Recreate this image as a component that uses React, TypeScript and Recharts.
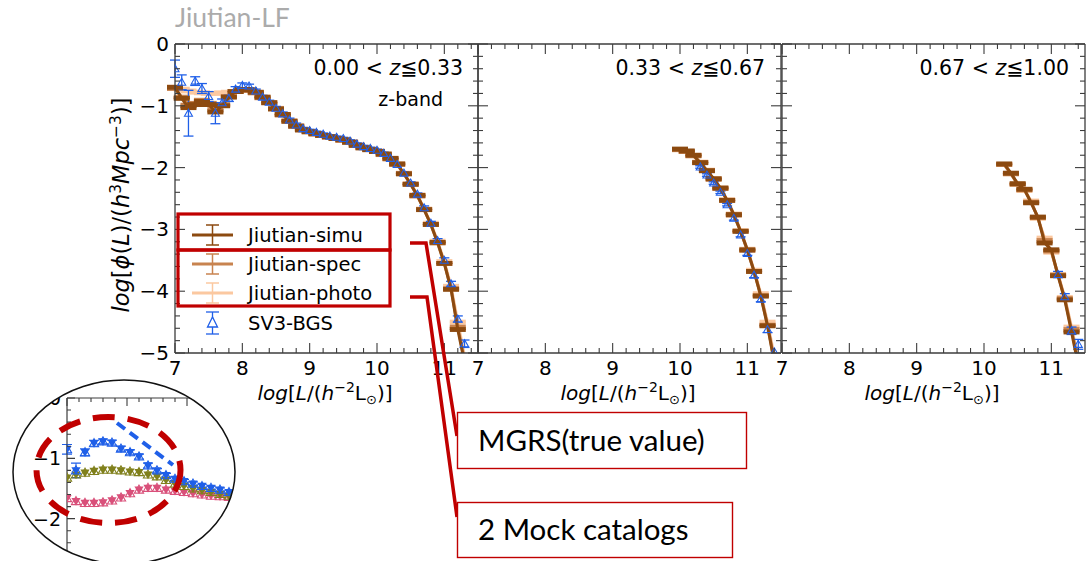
import React from "react";
import { ComposedChart, Line, XAxis, YAxis, ErrorBar } from "recharts";

// ---------- panel 1 : 0.00 < z <= 0.33 ----------
const lum1 = [7.0, 7.1, 7.2, 7.3, 7.4, 7.5, 7.6, 7.7, 7.8, 7.9, 8.0, 8.1, 8.2, 8.3, 8.4, 8.5, 8.6, 8.7, 8.8, 8.9, 9.0, 9.1, 9.2, 9.3, 9.4, 9.5, 9.6, 9.7, 9.8, 9.9, 10.0, 10.1, 10.2, 10.3, 10.4, 10.5, 10.6, 10.7, 10.8, 10.9, 11.0, 11.1, 11.2, 11.3, 11.4];
const simu1 = [-0.7, -0.88, -1.03, -0.98, -0.93, -0.98, -1.1, -1.0, -0.86, -0.77, -0.74, -0.74, -0.78, -0.86, -0.95, -1.05, -1.14, -1.25, -1.33, -1.39, -1.42, -1.45, -1.48, -1.5, -1.53, -1.55, -1.59, -1.64, -1.68, -1.71, -1.74, -1.78, -1.85, -1.94, -2.1, -2.27, -2.45, -2.68, -2.92, -3.21, -3.55, -3.97, -4.62, -5.15, null];
const spec1 = [-0.72, -0.86, -0.99, -0.96, -0.91, -0.96, -1.06, -0.98, -0.85, -0.77, -0.74, -0.75, -0.79, -0.87, -0.95, -1.05, -1.15, -1.25, -1.33, -1.39, -1.42, -1.46, -1.48, -1.51, -1.53, -1.56, -1.59, -1.64, -1.68, -1.71, -1.74, -1.79, -1.86, -1.95, -2.1, -2.27, -2.46, -2.68, -2.92, -3.22, -3.55, -3.96, -4.58, -5.12, null];
const photo1 = [-0.7, -0.73, -0.76, -0.78, -0.79, -0.8, -0.8, -0.79, -0.78, -0.77, -0.75, -0.75, -0.79, -0.86, -0.95, -1.04, -1.14, -1.24, -1.32, -1.38, -1.42, -1.45, -1.48, -1.5, -1.52, -1.55, -1.58, -1.63, -1.67, -1.7, -1.73, -1.78, -1.85, -1.94, -2.09, -2.26, -2.44, -2.67, -2.9, -3.19, -3.52, -3.92, -4.5, -5.05, null];
const sv31 = [-0.4, -0.62, -1.12, -0.6, -0.72, -0.85, -1.12, -0.95, -0.88, -0.73, -0.67, -0.68, -0.76, -0.86, -0.94, -1.04, -1.13, -1.23, -1.31, -1.37, -1.4, -1.43, -1.46, -1.49, -1.51, -1.53, -1.57, -1.62, -1.66, -1.69, -1.72, -1.77, -1.85, -1.95, -2.09, -2.25, -2.43, -2.65, -2.9, -3.18, -3.5, -3.88, -4.45, -4.85, null];
const sv3Err1 = [0.14, 0.12, 0.37, 0.07, 0.08, 0.08, 0.17, 0.06, 0.05, 0.04, 0.04, 0.03, 0.03, 0.03, 0.03, 0.03, 0.03, 0.03, 0.03, 0.02, 0.02, 0.02, 0.02, 0.02, 0.02, 0.02, 0.02, 0.02, 0.02, 0.02, 0.02, 0.02, 0.02, 0.02, 0.02, 0.02, 0.02, 0.03, 0.03, 0.03, 0.04, 0.04, 0.05, 0.06, null];

// ---------- panel 2 : 0.33 < z <= 0.67 ----------
const lum2 = [10.0, 10.1, 10.2, 10.3, 10.4, 10.5, 10.6, 10.7, 10.8, 10.9, 11.0, 11.1, 11.2, 11.3, 11.4, 11.5];
const simu2 = [-1.7, -1.73, -1.8, -1.92, -2.05, -2.18, -2.33, -2.53, -2.76, -3.03, -3.33, -3.68, -4.08, -4.56, -5.15, null];
const spec2 = [-1.71, -1.74, -1.81, -1.92, -2.05, -2.19, -2.34, -2.53, -2.77, -3.03, -3.34, -3.68, -4.07, -4.55, -5.12, null];
const photo2 = [-1.71, -1.74, -1.8, -1.91, -2.04, -2.18, -2.33, -2.52, -2.75, -3.02, -3.32, -3.66, -4.04, -4.5, -5.05, null];
const sv32 = [null, null, null, -1.99, -2.12, -2.25, -2.4, -2.6, -2.82, -3.09, -3.39, -3.74, -4.13, -4.62, -4.98, null];
const sv3Err2 = [null, null, null, 0.02, 0.02, 0.02, 0.02, 0.02, 0.03, 0.03, 0.03, 0.04, 0.04, 0.05, null, null];

// ---------- panel 3 : 0.67 < z <= 1.00 ----------
const lum3 = [10.3, 10.4, 10.5, 10.6, 10.7, 10.8, 10.9, 11.0, 11.1, 11.2, 11.3, 11.4, 11.5];
const simu3 = [-1.94, -2.09, -2.26, -2.35, -2.57, -2.8, -3.22, -3.33, -3.75, -4.14, -4.66, -5.2, null];
const spec3 = [-1.95, -2.1, -2.27, -2.36, -2.56, -2.81, -3.18, -3.35, -3.74, -4.12, -4.62, -5.15, null];
const photo3 = [-1.95, -2.1, -2.27, -2.37, -2.54, -2.82, -3.14, -3.37, -3.73, -4.1, -4.58, -5.1, null];
const sv33 = [null, null, null, null, null, null, null, null, -3.73, -4.09, -4.64, -4.86, null];
const sv3Err3 = [null, null, null, null, null, null, null, null, 0.05, 0.05, 0.06, 0.08, null];

const mockErr = 0.015;

// ---------- inset (older LF comparison) ----------
const insetL = [7.0, 7.15, 7.3, 7.45, 7.6, 7.75, 7.9, 8.05, 8.2, 8.35, 8.5, 8.65, 8.8, 8.95, 9.1, 9.25, 9.4, 9.55, 9.7, 9.85, 10.0];
const insetBlue = [-0.85, -1.2, -0.9, -0.75, -0.72, -0.74, -0.84, -0.9, -0.97, -1.12, -1.2, -1.28, -1.34, -1.38, -1.42, -1.46, -1.49, -1.52, -1.56, -1.58, -1.6];
const insetBlueErr = [0.08, 0.12, 0.06, 0.05, 0.04, 0.04, 0.04, 0.04, 0.04, 0.04, 0.03, 0.03, 0.03, 0.03, 0.03, 0.03, 0.03, 0.03, 0.03, 0.03, 0.03];
const insetOlive = [-1.32, -1.27, -1.24, -1.21, -1.19, -1.19, -1.2, -1.22, -1.23, -1.27, -1.3, -1.36, -1.42, -1.46, -1.5, -1.53, -1.56, -1.59, -1.62, -1.64, -1.65];
const insetPink = [-1.66, -1.71, -1.74, -1.74, -1.73, -1.7, -1.65, -1.58, -1.52, -1.49, -1.49, -1.52, -1.54, -1.56, -1.58, -1.6, -1.62, -1.63, -1.64, -1.64, -1.64];

const xTicks = [7, 7.2, 7.4, 7.6, 7.8, 8, 8.2, 8.4, 8.6, 8.8, 9, 9.2, 9.4, 9.6, 9.8, 10, 10.2, 10.4, 10.6, 10.8, 11, 11.2, 11.4];
const yTicks = [0, -0.2, -0.4, -0.6, -0.8, -1, -1.2, -1.4, -1.6, -1.8, -2, -2.2, -2.4, -2.6, -2.8, -3, -3.2, -3.4, -3.6, -3.8, -4, -4.2, -4.4, -4.6, -4.8, -5];
const insetXTicks = [7, 7.2, 7.4, 7.6, 7.8, 8, 8.2, 8.4, 8.6, 8.8, 9, 9.2, 9.4, 9.6, 9.8, 10, 10.2, 10.4];
const insetYTicks = [0, -0.2, -0.4, -0.6, -0.8, -1, -1.2, -1.4, -1.6, -1.8, -2, -2.2, -2.4, -2.6, -2.8, -3];
const insetYLabels = [0, -1, -2];

const SIMU = "#8c4a10";
const SPEC = "#c8834f";
const PHOTO = "#fbc8a0";
const BLUE = "#1f5fe8";
const OLIVE = "#80801c";
const PINK = "#d9507a";
const RED = "#c00000";
const AXIS = "#3c3c3c";
const FONT = "DejaVu Sans";

const W = 1088;
const CH = 420;
const TOP = 44;
const BOTTOM = 353;
const PW = 303;
const Y_MIN = -5;

// caps of points that fall below the frame are dropped (ErrorBar is not clipped)
const errFor = (v, e) => (v == null || v < Y_MIN ? null : e);

const buildRows = (lum, simu, spec, photo, sv3, sv3Err) =>
  lum.map((x, i) => ({
    x,
    simu: simu[i],
    spec: spec[i],
    photo: photo[i],
    sv3: sv3[i],
    sv3Err: errFor(sv3[i], sv3Err[i]),
    simuErr: errFor(simu[i], mockErr),
    specErr: errFor(spec[i], mockErr),
    photoErr: errFor(photo[i], mockErr),
  }));

const rows1 = buildRows(lum1, simu1, spec1, photo1, sv31, sv3Err1);
const rows2 = buildRows(lum2, simu2, spec2, photo2, sv32, sv3Err2);
const rows3 = buildRows(lum3, simu3, spec3, photo3, sv33, sv3Err3);

const insetRows = insetL.map((x, i) => ({
  x,
  blue: insetBlue[i],
  blueErr: insetBlueErr[i],
  olive: insetOlive[i],
  pink: insetPink[i],
}));

const isMajor = (v: number) => Math.abs(v - Math.round(v)) < 1e-6;
const fmt = (v: number) => (v < 0 ? "\u2212" + Math.abs(v) : String(v));

function AxisTick(props: any) {
  const { x, y, payload, side, showLabel, labels, big = 10, small = 5, fontSize = 20 } = props;
  const v = payload.value;
  const len = isMajor(v) ? big : small;
  const labelled = showLabel && isMajor(v) && (!labels || labels.includes(v));
  let line;
  if (side === "bottom") line = <line x1={x} y1={y} x2={x} y2={y - len} />;
  else if (side === "top") line = <line x1={x} y1={y} x2={x} y2={y + len} />;
  else if (side === "left") line = <line x1={x} y1={y} x2={x + len} y2={y} />;
  else line = <line x1={x} y1={y} x2={x - len} y2={y} />;
  return (
    <g stroke={AXIS} strokeWidth={1.1}>
      {line}
      {labelled && side === "bottom" && (
        <text x={x} y={y + 22} textAnchor="middle" fontSize={fontSize} fontFamily={FONT} fill="#000" stroke="none">
          {fmt(v)}
        </text>
      )}
      {labelled && side === "left" && (
        <text x={x - 6} y={y + 7} textAnchor="end" fontSize={fontSize} fontFamily={FONT} fill="#000" stroke="none">
          {fmt(v)}
        </text>
      )}
    </g>
  );
}

function OpenTriangle(props: any) {
  const { cx, cy, index } = props;
  if (!Number.isFinite(cx) || !Number.isFinite(cy)) return <g key={"tri" + index} />;
  const s = 4;
  return (
    <polygon
      key={"tri" + index}
      points={`${cx},${cy - s} ${cx - s},${cy + s * 0.75} ${cx + s},${cy + s * 0.75}`}
      fill="none"
      stroke={BLUE}
      strokeWidth={1.1}
    />
  );
}

const makeTwinTriangle = (color: string) => (props: any) => {
  const { cx, cy, index } = props;
  if (!Number.isFinite(cx) || !Number.isFinite(cy)) return <g key={"tw" + index} />;
  const s = 4.6;
  return (
    <g key={"tw" + index}>
      <polygon points={`${cx - s},${cy - s * 0.7} ${cx + s},${cy - s * 0.7} ${cx},${cy + s}`} fill={color} />
      <polygon points={`${cx},${cy - s} ${cx - s},${cy + s * 0.75} ${cx + s},${cy + s * 0.75}`} fill="none" stroke={color} strokeWidth={1.1} />
    </g>
  );
};

// axes get 1px of room (a zero-size axis is not drawn), margins are reduced to keep the plot box in place
function Panel({ rows, left, showYLabels }: any) {
  const right = W - left - PW;
  const axisLine = { stroke: AXIS, strokeWidth: 1.3 };
  return (
    <div style={{ position: "absolute", left: 0, top: 0 }}>
      <ComposedChart width={W} height={CH} data={rows} margin={{ top: TOP - 1, bottom: CH - BOTTOM - 1, left: left - 1, right: right - 1 }}>
        <XAxis xAxisId="b" dataKey="x" type="number" domain={[7, 11.5]} ticks={xTicks} interval={0} allowDataOverflow
          height={1} tickSize={0} tickMargin={0} tickLine={false} axisLine={axisLine}
          tick={(p: any) => <AxisTick {...p} side="bottom" showLabel />} />
        <XAxis xAxisId="t" orientation="top" dataKey="x" type="number" domain={[7, 11.5]} ticks={xTicks} interval={0} allowDataOverflow
          height={1} tickSize={0} tickMargin={0} tickLine={false} axisLine={axisLine}
          tick={(p: any) => <AxisTick {...p} side="top" />} />
        <YAxis yAxisId="l" type="number" domain={[Y_MIN, 0]} ticks={yTicks} interval={0} allowDataOverflow
          width={1} tickSize={0} tickMargin={0} tickLine={false} axisLine={axisLine}
          tick={(p: any) => <AxisTick {...p} side="left" showLabel={showYLabels} />} />
        <YAxis yAxisId="r" orientation="right" type="number" domain={[Y_MIN, 0]} ticks={yTicks} interval={0} allowDataOverflow
          width={1} tickSize={0} tickMargin={0} tickLine={false} axisLine={axisLine}
          tick={(p: any) => <AxisTick {...p} side="right" />} />
        <Line xAxisId="b" yAxisId="l" dataKey="photo" type="linear" stroke={PHOTO} strokeWidth={3} dot={false} activeDot={false} isAnimationActive={false}>
          <ErrorBar dataKey="photoErr" width={8} stroke={PHOTO} strokeWidth={3} isAnimationActive={false} />
        </Line>
        <Line xAxisId="b" yAxisId="l" dataKey="spec" type="linear" stroke={SPEC} strokeWidth={3} dot={false} activeDot={false} isAnimationActive={false}>
          <ErrorBar dataKey="specErr" width={8} stroke={SPEC} strokeWidth={3} isAnimationActive={false} />
        </Line>
        <Line xAxisId="b" yAxisId="l" dataKey="sv3" type="linear" stroke="none" dot={(p: any) => <OpenTriangle {...p} />} activeDot={false} isAnimationActive={false}>
          <ErrorBar dataKey="sv3Err" width={5} stroke={BLUE} strokeWidth={1.3} isAnimationActive={false} />
        </Line>
        <Line xAxisId="b" yAxisId="l" dataKey="simu" type="linear" stroke={SIMU} strokeWidth={3} dot={false} activeDot={false} isAnimationActive={false}>
          <ErrorBar dataKey="simuErr" width={8} stroke={SIMU} strokeWidth={3} isAnimationActive={false} />
        </Line>
      </ComposedChart>
    </div>
  );
}

function Inset() {
  const axisLine = { stroke: AXIS, strokeWidth: 1.2 };
  return (
    <div style={{ position: "absolute", left: 0, top: 370, width: 300, height: 191, overflow: "hidden", clipPath: "ellipse(111px 92px at 124px 102px)" }}>
      <ComposedChart width={300} height={220} data={insetRows} margin={{ top: 27, left: 66, right: 23, bottom: 11 }}>
        <XAxis xAxisId="t" orientation="top" dataKey="x" type="number" domain={[7, 10.5]} ticks={insetXTicks} interval={0} allowDataOverflow
          height={1} tickSize={0} tickMargin={0} tickLine={false} axisLine={axisLine}
          tick={(p: any) => <AxisTick {...p} side="top" big={8} small={4} />} />
        <YAxis yAxisId="l" type="number" domain={[-3, 0]} ticks={insetYTicks} interval={0} allowDataOverflow
          width={1} tickSize={0} tickMargin={0} tickLine={false} axisLine={axisLine}
          tick={(p: any) => <AxisTick {...p} side="left" showLabel labels={insetYLabels} big={8} small={4} fontSize={19} />} />
        <Line xAxisId="t" yAxisId="l" dataKey="pink" stroke="none" dot={makeTwinTriangle(PINK)} activeDot={false} isAnimationActive={false} />
        <Line xAxisId="t" yAxisId="l" dataKey="olive" stroke="none" dot={makeTwinTriangle(OLIVE)} activeDot={false} isAnimationActive={false} />
        <Line xAxisId="t" yAxisId="l" dataKey="blue" stroke="none" dot={makeTwinTriangle(BLUE)} activeDot={false} isAnimationActive={false}>
          <ErrorBar dataKey="blueErr" width={5} stroke={BLUE} strokeWidth={1.1} isAnimationActive={false} />
        </Line>
      </ComposedChart>
    </div>
  );
}

const legendItems = [
  { label: "Jiutian-simu", color: SIMU, y: 235 },
  { label: "Jiutian-spec", color: SPEC, y: 264 },
  { label: "Jiutian-photo", color: PHOTO, y: 293 },
];

function XTitle({ cx }: { cx: number }) {
  return (
    <text x={cx} y={400} textAnchor="middle" fontSize={20} fontFamily={FONT}>
      <tspan fontStyle="italic">log</tspan>[<tspan fontStyle="italic">L</tspan>/(<tspan fontStyle="italic">h</tspan>
      <tspan dy={-8} fontSize={14}>−2</tspan><tspan dy={8}>L</tspan><tspan dy={4} fontSize={13}>⊙</tspan><tspan dy={-4}>)]</tspan>
    </text>
  );
}

function ZText({ right, lo, hi }: { right: number; lo: string; hi: string }) {
  return (
    <text x={right} y={75} textAnchor="end" fontSize={20.5} fontFamily={FONT}>
      {lo} &lt; <tspan fontStyle="italic">z</tspan>≦{hi}
    </text>
  );
}

function Overlay() {
  return (
    <svg width={W} height={561} style={{ position: "absolute", left: 0, top: 0, pointerEvents: "none" }}>
      <text x={175} y={27} fontSize={26.5} fontFamily="Lato" fill="#ababab">Jiutian-LF</text>

      <text transform="translate(129,205) rotate(-90)" textAnchor="middle" fontSize={22.5} fontFamily={FONT}>
        <tspan fontStyle="italic">log</tspan>[<tspan fontStyle="italic">ϕ</tspan>(<tspan fontStyle="italic">L</tspan>)/(<tspan fontStyle="italic">h</tspan>
        <tspan dy={-8} fontSize={15.5}>3</tspan><tspan dy={8} fontStyle="italic">Mpc</tspan><tspan dy={-8} fontSize={15.5}>−3</tspan><tspan dy={8}>)]</tspan>
      </text>

      <XTitle cx={325} />
      <XTitle cx={628} />
      <XTitle cx={932} />

      <ZText right={463} lo="0.00" hi="0.33" />
      <ZText right={765} lo="0.33" hi="0.67" />
      <ZText right={1069} lo="0.67" hi="1.00" />
      <text x={443} y={106} textAnchor="end" fontSize={19} fontFamily={FONT}>z-band</text>

      {legendItems.map((it) => (
        <g key={it.label}>
          <line x1={192} y1={it.y} x2={233} y2={it.y} stroke={it.color} strokeWidth={3} />
          <line x1={212.5} y1={it.y - 10} x2={212.5} y2={it.y + 10} stroke={it.color} strokeWidth={1.5} />
          <line x1={206} y1={it.y - 10} x2={219} y2={it.y - 10} stroke={it.color} strokeWidth={1.5} />
          <line x1={206} y1={it.y + 10} x2={219} y2={it.y + 10} stroke={it.color} strokeWidth={1.5} />
          <text x={248} y={it.y + 7} fontSize={19.5} fontFamily={FONT}>{it.label}</text>
        </g>
      ))}
      <g>
        <line x1={212.5} y1={312} x2={212.5} y2={334} stroke={BLUE} strokeWidth={1.3} />
        <line x1={206} y1={312} x2={219} y2={312} stroke={BLUE} strokeWidth={1.3} />
        <line x1={206} y1={334} x2={219} y2={334} stroke={BLUE} strokeWidth={1.3} />
        <polygon points="212.5,317 207.5,327 217.5,327" fill="white" stroke={BLUE} strokeWidth={1.3} />
        <text x={248} y={330} fontSize={19.5} fontFamily={FONT}>SV3-BGS</text>
      </g>

      <rect x={178} y={214} width={212} height={36} fill="none" stroke={RED} strokeWidth={3.2} />
      <rect x={178} y={250} width={212} height={56} fill="none" stroke={RED} strokeWidth={3.2} />
      <polyline points="410,243 426,243 457,436" fill="none" stroke={RED} strokeWidth={3.5} />
      <polyline points="410,297 427,297 457,517" fill="none" stroke={RED} strokeWidth={3.5} />

      <rect x={457.5} y={412.5} width={289} height={56} fill="white" stroke={RED} strokeWidth={1.4} />
      <text x={478} y={451} fontSize={29.5} fontFamily="Lato">MGRS(true value)</text>
      <rect x={457.5} y={502.5} width={275} height={55} fill="white" stroke={RED} strokeWidth={1.4} />
      <text x={478} y={540} fontSize={29.5} fontFamily="Lato">2 Mock catalogs</text>

      <ellipse cx={124} cy={472} rx={111} ry={92} fill="none" stroke="#111" strokeWidth={1.5} />
      <ellipse cx={108.5} cy={470} rx={72} ry={53} fill="none" stroke={RED} strokeWidth={6} strokeDasharray="22 13" />
      <line x1={117} y1={423} x2={173} y2={465} stroke={BLUE} strokeWidth={4} strokeDasharray="10 6" />
    </svg>
  );
}

export default function App() {
  return (
    <div style={{ position: "absolute", left: 0, top: 0, width: W, height: 561, background: "#fff", overflow: "hidden" }}>
      <Panel rows={rows1} left={175} showYLabels />
      <Panel rows={rows2} left={478} />
      <Panel rows={rows3} left={782} />
      <Inset />
      <Overlay />
    </div>
  );
}
